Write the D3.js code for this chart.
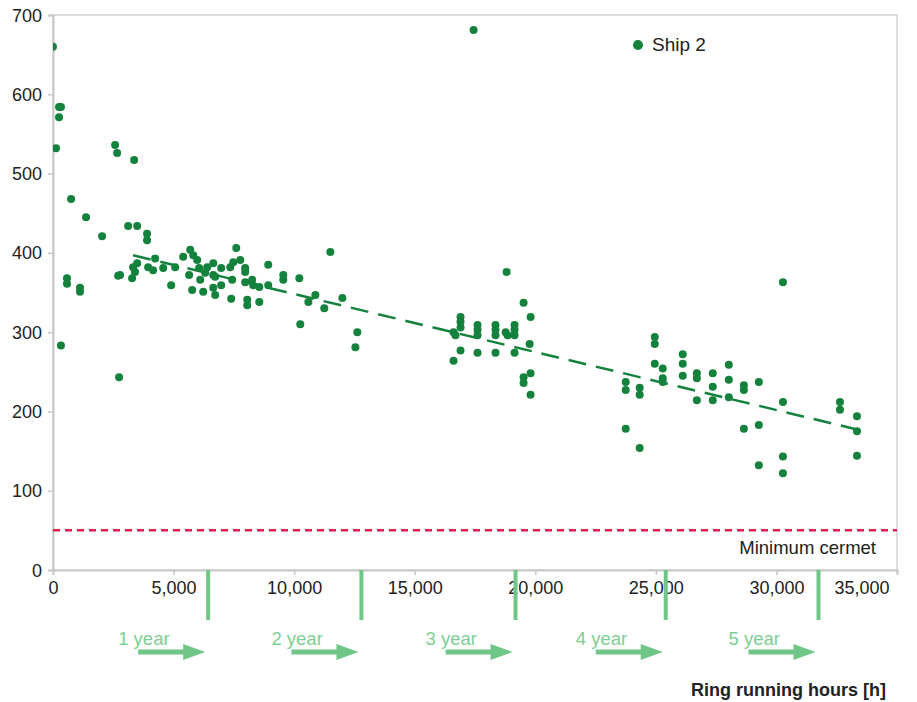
<!DOCTYPE html>
<html lang="en">
<head>
  <meta charset="UTF-8">
  <title>Ship 2 – ring running hours</title>
  <script src="https://d3js.org/d3.v7.min.js"></script>
  <style>
    body {
      margin: 0;
      background: #ffffff;
      font-family: 'Liberation Sans', Arial, sans-serif;
    }
    svg { display: block; }
  </style>
</head>
<body>
  <svg id="chart" width="917" height="702"></svg>

  <script>
    // Ship 2 measurements: running hours and value
    const hours = [
      0, 250, 330, 250, 125, 330, 750, 580, 580, 1120, 1120, 1370, 2035, 2575, 2660, 3365,
      3115, 3490, 3900, 3900, 2700, 2780, 2740,
      3320, 3280, 3490, 3400, 3945, 4235, 4150, 4570, 4900, 5065, 5400, 5690, 5815, 5980,
      5645, 6060, 6395, 6105, 6310, 5770, 6230, 6645, 6645, 6725, 6975, 6645, 6725, 6975,
      7350, 7475, 7600, 7765, 7970, 7970, 7430, 7970, 8260, 8305, 8555, 8925, 8925, 7390,
      8055, 8055, 8555, 9550, 9550, 10215, 10880, 10590, 11500, 11250, 12000, 10255, 12620, 12540,
      17440, 18810, 19515, 19805, 16900, 16900, 16900, 16610, 16690, 17605, 17605, 17605,
      18350, 18350, 18350, 18770, 18850, 19140, 19140, 19140, 19765, 16900, 16610, 17605,
      18350, 19140, 19515, 19515, 19805, 19805,
      23750, 23750, 23750, 24330, 24330, 24330, 24955, 24955, 24955, 25285, 25285, 25285,
      26115, 26115, 26115, 26700, 26700, 26700, 27360, 27360, 27360, 28025, 28025, 28025,
      28650, 28650, 28650, 29270, 29270, 29270, 30270, 30270, 30270, 30270, 32635, 32635,
      33340, 33340, 33340
    ];
    const values = [
      660, 584, 584, 571, 532, 283, 468, 368, 361, 356, 351, 445, 421, 536, 526, 517,
      434, 434, 424, 416, 371, 372, 243,
      382, 368, 387, 376, 382, 393, 378, 381, 359, 382, 395, 404, 397, 391,
      372, 381, 382, 366, 375, 353, 351, 387, 372, 370, 381, 356, 347, 359,
      382, 388, 406, 391, 381, 376, 366, 363, 366, 359, 357, 359, 385, 342,
      341, 334, 338, 372, 366, 368, 347, 338, 401, 330, 343, 310, 300, 281,
      681, 376, 337, 319, 319, 313, 306, 300, 296, 309, 303, 296,
      309, 303, 296, 300, 296, 309, 303, 296, 285, 277, 264, 274,
      274, 274, 243, 236, 248, 221,
      237, 227, 178, 230, 221, 154, 294, 285, 260, 254, 242, 237,
      272, 260, 245, 248, 242, 214, 248, 231, 214, 259, 240, 218,
      233, 227, 178, 237, 183, 132, 212, 143, 122, 363, 212, 202,
      194, 175, 144
    ];

    // dashed trend line ends
    const trendHours = [3320, 33380];
    const trendValues = [397, 177];

    const minimumCermet = 50;
    const yearMarks = [6435, 12790, 19180, 25410, 31745];
    const yearLabels = ["1 year", "2 year", "3 year", "4 year", "5 year"];

    const xTicks = [0, 5000, 10000, 15000, 20000, 25000, 30000, 35000];
    const yTicks = [0, 100, 200, 300, 400, 500, 600, 700];

    const plotL = 53, plotR = 897, plotT = 15, plotB = 570;
    const green = "#14823d";
    const lightGreen = "#6fc687";
    const font = "'Liberation Sans', Arial, sans-serif";

    const svg = d3.select("#chart");

    const x = d3.scaleLinear().domain([0, 35000]).range([plotL, plotR]);
    const y = d3.scaleLinear().domain([0, 700]).range([plotB, plotT]);

    svg.append("clipPath").attr("id", "plot-clip")
      .append("rect")
      .attr("x", plotL).attr("y", plotT)
      .attr("width", plotR - plotL).attr("height", plotB - plotT);

    // frame
    svg.append("rect")
      .attr("x", plotL).attr("y", plotT)
      .attr("width", plotR - plotL).attr("height", plotB - plotT)
      .attr("fill", "none")
      .attr("stroke", "#d4d4d4")
      .attr("stroke-width", 1.5);

    // axes
    const xAxis = svg.append("g")
      .attr("transform", `translate(0,${plotB})`)
      .call(d3.axisBottom(x).tickValues(xTicks).tickSize(5).tickPadding(6)
        .tickFormat(d3.format(",")));
    const yAxis = svg.append("g")
      .attr("transform", `translate(${plotL},0)`)
      .call(d3.axisLeft(y).tickValues(yTicks).tickSize(5).tickPadding(6));

    [xAxis, yAxis].forEach(a => {
      a.select(".domain").attr("stroke", "#c8c8c8").attr("stroke-width", 2);
      a.selectAll(".tick line").attr("stroke", "#c8c8c8").attr("stroke-width", 1.5);
      a.selectAll("text")
        .attr("fill", "#222")
        .style("font-size", "18px")
        .style("font-family", font);
    });
    yAxis.selectAll(".tick text").attr("dy", "0.34em");
    // last x label sits inside the frame
    xAxis.selectAll(".tick text").filter(d => d === 35000).attr("text-anchor", "end").attr("dx", "-8");

    // minimum cermet line
    svg.append("line")
      .attr("x1", x(0)).attr("x2", x(35000))
      .attr("y1", y(minimumCermet)).attr("y2", y(minimumCermet))
      .attr("stroke", "#e8194b")
      .attr("stroke-width", 2.5)
      .attr("stroke-dasharray", "7,5");

    svg.append("text")
      .attr("x", 876).attr("y", y(minimumCermet) + 24)
      .attr("text-anchor", "end")
      .attr("fill", "#222")
      .style("font-size", "18.5px")
      .text("Minimum cermet");

    // points
    svg.append("g")
      .attr("clip-path", "url(#plot-clip)")
      .selectAll("circle")
      .data(hours.map((h, i) => [h, values[i]]))
      .join("circle")
      .attr("cx", d => x(d[0]))
      .attr("cy", d => y(d[1]))
      .attr("r", 4)
      .attr("fill", green);

    // trend
    svg.append("line")
      .attr("x1", x(trendHours[0])).attr("y1", y(trendValues[0]))
      .attr("x2", x(trendHours[1])).attr("y2", y(trendValues[1]))
      .attr("stroke", green)
      .attr("stroke-width", 2.5)
      .attr("stroke-dasharray", "18,10");

    // legend
    svg.append("circle").attr("cx", 638).attr("cy", 45).attr("r", 5).attr("fill", green);
    svg.append("text")
      .attr("x", 652).attr("y", 51)
      .attr("fill", "#222")
      .style("font-size", "19px")
      .text("Ship 2");

    // year markers
    const years = svg.append("g");
    years.selectAll("rect")
      .data(yearMarks)
      .join("rect")
      .attr("x", d => x(d) - 2)
      .attr("y", plotB)
      .attr("width", 4)
      .attr("height", 50)
      .attr("fill", lightGreen);

    years.selectAll("text")
      .data(yearMarks)
      .join("text")
      .attr("x", d => x(d) - 90)
      .attr("y", 645)
      .attr("fill", "#7ccf93")
      .style("font-size", "18.5px")
      .text((d, i) => yearLabels[i]);

    years.selectAll("path")
      .data(yearMarks)
      .join("path")
      .attr("fill", lightGreen)
      .attr("d", d => {
        const e = x(d) - 3, s = e - 67, c = 652, h = e - 22;
        return `M${s},${c - 2.5}H${h}V${c - 8}L${e},${c}L${h},${c + 8}V${c + 2.5}H${s}Z`;
      });

    // axis title
    svg.append("text")
      .attr("x", 886).attr("y", 696)
      .attr("text-anchor", "end")
      .attr("fill", "#222")
      .style("font-size", "18px")
      .style("font-weight", "bold")
      .text("Ring running hours [h]");
  </script>
</body>
</html>
